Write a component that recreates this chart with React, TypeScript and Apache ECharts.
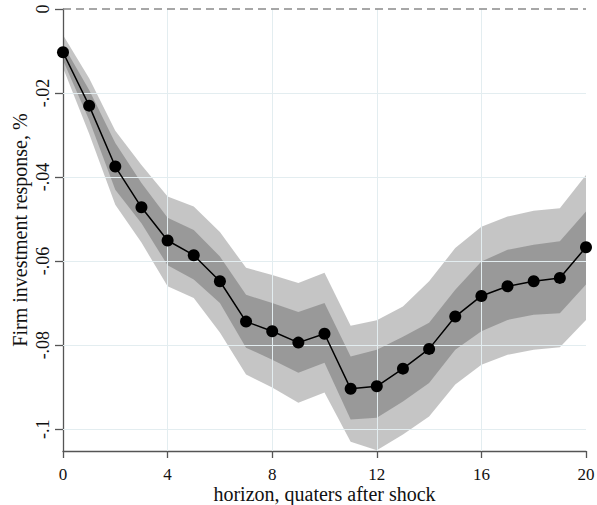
import React, { useEffect, useRef } from "react";
import * as echarts from "echarts";

const horizon = [0, 1, 2, 3, 4, 5, 6, 7, 8, 9, 10, 11, 12, 13, 14, 15, 16, 17, 18, 19, 20];
const irf = [-0.0103, -0.0230, -0.0375, -0.0472, -0.0551, -0.0586, -0.0648, -0.0744, -0.0767, -0.0794, -0.0773, -0.0904, -0.0898, -0.0856, -0.0809, -0.0732, -0.0683, -0.0660, -0.0648, -0.0640, -0.0567];
const innerUpper = [-0.0085, -0.0193, -0.0319, -0.0414, -0.0497, -0.0526, -0.0589, -0.0680, -0.0700, -0.0721, -0.0700, -0.0827, -0.0811, -0.0780, -0.0747, -0.0668, -0.0601, -0.0573, -0.0561, -0.0553, -0.0482];
const innerLower = [-0.0122, -0.0264, -0.0430, -0.0510, -0.0610, -0.0644, -0.0700, -0.0806, -0.0835, -0.0866, -0.0842, -0.0977, -0.0973, -0.0934, -0.0890, -0.0811, -0.0767, -0.0740, -0.0728, -0.0724, -0.0656];
const outerUpper = [-0.0062, -0.0165, -0.0290, -0.0371, -0.0446, -0.0470, -0.0531, -0.0616, -0.0633, -0.0652, -0.0628, -0.0754, -0.0741, -0.0708, -0.0648, -0.0569, -0.0518, -0.0494, -0.0480, -0.0474, -0.0395];
const outerLower = [-0.0140, -0.0297, -0.0466, -0.0556, -0.0660, -0.0688, -0.0770, -0.0870, -0.0901, -0.0937, -0.0913, -0.1030, -0.1050, -0.1013, -0.0970, -0.0894, -0.0847, -0.0823, -0.0811, -0.0805, -0.0740];

const xTicks = [0, 4, 8, 12, 16, 20];
const yTicks = [0, -0.02, -0.04, -0.06, -0.08, -0.1];
const yTickLabels = ["0", "-.02", "-.04", "-.06", "-.08", "-.1"];
const xTitle = "horizon, quaters after shock";
const yTitle = "Firm investment response, %";

const FONT = "'Liberation Serif', 'Times New Roman', serif";

function bandSeries(lower: number[], upper: number[], fill: string, z: number) {
  const data = horizon.map((h, i) => [h, lower[i], upper[i]]);
  return {
    type: "custom",
    data,
    encode: { x: 0, y: [1, 2] },
    clip: true,
    silent: true,
    z,
    renderItem: (params: any, api: any) => {
      if (params.dataIndex !== 0) return null;
      const top = data.map((d) => api.coord([d[0], d[2]]));
      const bottom = data.map((d) => api.coord([d[0], d[1]])).reverse();
      return {
        type: "polygon",
        shape: { points: top.concat(bottom) },
        style: { fill, stroke: "none" },
      };
    },
  };
}

export default function App() {
  const ref = useRef<HTMLDivElement>(null);
  useEffect(() => {
    if (!ref.current) return;
    const chart = echarts.init(ref.current, null, { renderer: "svg" });
    const pairs = (arr: number[]) => horizon.map((h, i) => [h, arr[i]]);
    const gridY = yTicks.filter((v) => v !== 0);
    const gridX = xTicks.filter((v) => v !== 0 && v !== 20);
    chart.setOption({
      animation: false,
      backgroundColor: "#ffffff",
      grid: { left: 63, right: 11, top: 9, bottom: 54, containLabel: false, outerBoundsMode: "none" },
      xAxis: {
        type: "value",
        min: 0,
        max: 20,
        interval: 4,
        name: xTitle,
        nameLocation: "middle",
        nameGap: 34,
        nameMoveOverlap: false,
        nameTextStyle: { fontFamily: FONT, fontSize: 20, lineHeight: 18, color: "#111" },
        axisLine: { show: true, onZero: false, lineStyle: { color: "#555", width: 1.3 } },
        axisTick: { show: true, length: 7, lineStyle: { color: "#555", width: 1.3 } },
        axisLabel: { fontFamily: FONT, fontSize: 17, lineHeight: 15, color: "#111", margin: 16 },
        splitLine: { show: false },
      },
      yAxis: {
        type: "value",
        min: -0.1052,
        max: 0,
        name: yTitle,
        nameLocation: "middle",
        nameGap: 33,
        nameMoveOverlap: false,
        nameTextStyle: { fontFamily: FONT, fontSize: 20, color: "#111" },
        axisLine: { show: true, onZero: false, lineStyle: { color: "#555", width: 1.3 } },
        axisTick: { show: true, length: 8, customValues: yTicks, lineStyle: { color: "#555", width: 1.3 } },
        axisLabel: {
          fontFamily: FONT,
          fontSize: 18,
          color: "#111",
          rotate: 90,
          margin: 11,
          customValues: yTicks,
          formatter: (v: number) => {
            const i = yTicks.findIndex((t) => Math.abs(t - v) < 1e-9);
            return i >= 0 ? yTickLabels[i] : "";
          },
        },
        splitLine: { show: false },
      },
      series: [
        {
          type: "line",
          data: [],
          silent: true,
          z: 1,
          markLine: {
            silent: true,
            symbol: "none",
            label: { show: false },
            lineStyle: { color: "#e3edf0", width: 1, type: "solid" },
            data: [
              ...gridY.map((v) => ({ yAxis: v })),
              ...gridX.map((v) => ({ xAxis: v })),
            ],
          },
        },
        bandSeries(outerLower, outerUpper, "rgba(80,80,80,0.33)", 2),
        bandSeries(innerLower, innerUpper, "rgba(80,80,80,0.37)", 3),
        {
          type: "line",
          data: pairs(irf),
          symbol: "circle",
          symbolSize: 12,
          itemStyle: { color: "#000" },
          lineStyle: { color: "#000", width: 1.5 },
          z: 5,
          markLine: {
            silent: true,
            symbol: "none",
            label: { show: false },
            lineStyle: { color: "#8a8a8a", width: 1.6, type: [8, 5] },
            data: [{ yAxis: 0 }],
          },
        },
      ],
    });
    return () => chart.dispose();
  }, []);
  return <div ref={ref} style={{ width: 597, height: 505, position: "absolute", left: 0, top: 0 }} />;
}
